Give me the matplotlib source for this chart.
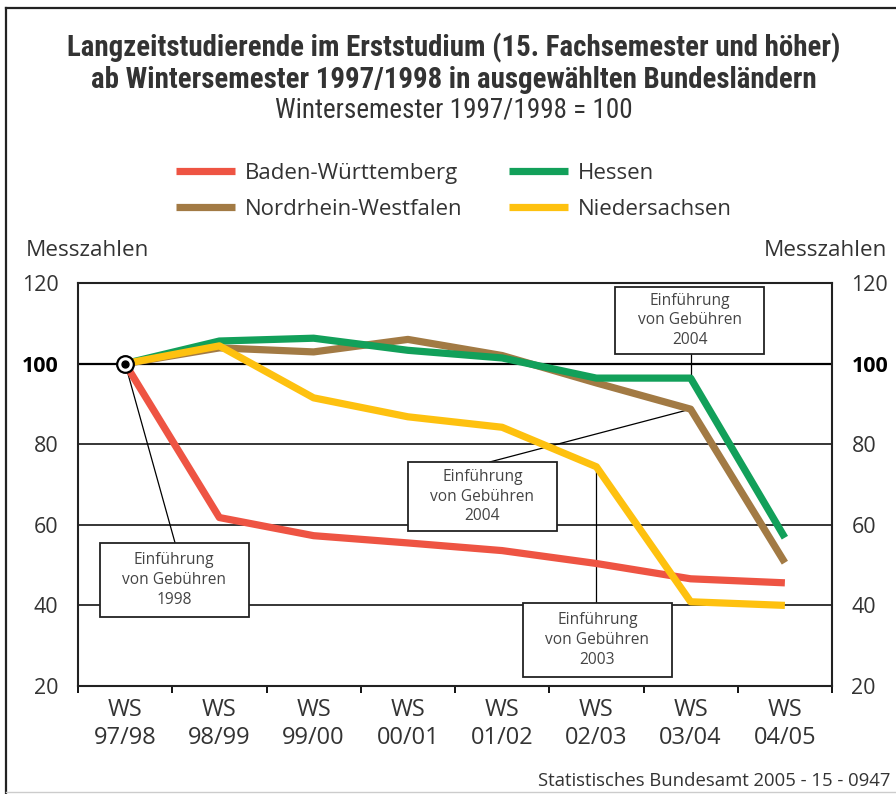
import matplotlib
matplotlib.use("Agg")
import matplotlib.pyplot as plt
from matplotlib import font_manager
from matplotlib.lines import Line2D
from matplotlib.patches import Rectangle

# ── Data (Messzahlen, WS 1997/1998 = 100) ───────────────────────────────────
semesters = ["WS\n97/98", "WS\n98/99", "WS\n99/00", "WS\n00/01",
             "WS\n01/02", "WS\n02/03", "WS\n03/04", "WS\n04/05"]
baden_wuerttemberg = [100, 61.8, 57.3, 55.5, 53.6, 50.4, 46.6, 45.6]
hessen = [100, 105.6, 106.3, 103.3, 101.4, 96.4, 96.4, 56.8]
nordrhein_westfalen = [100, 103.9, 102.9, 106.0, 102.0, 95.2, 88.7, 50.6]
niedersachsen = [100, 104.4, 91.5, 86.8, 84.2, 74.4, 40.9, 40.0]
y_ticks = [20, 40, 60, 80, 100, 120]

# ── Style ────────────────────────────────────────────────────────────────────
RED = "#ee5443"
GREEN = "#12a05a"
BROWN = "#a27a44"
YELLOW = "#fec10f"
TEXT = "#333333"
FONT = "Open Sans"

installed = {f.name for f in font_manager.fontManager.ttflist}
narrow = [n for n in ("Roboto Condensed", "Liberation Sans Narrow", "Open Sans Condensed")
          if n in installed]
TITLE_FONT = narrow[0] if narrow else "Roboto"

plt.rcParams["font.family"] = [FONT, "DejaVu Sans"]

fig = plt.figure(figsize=(8.96, 7.94), dpi=100)
ax = fig.add_axes([78 / 896, 1 - 686 / 794, 754 / 896, 403 / 794])

x = list(range(len(semesters)))
lw = 5.2
l_bw, = ax.plot(x, baden_wuerttemberg, color=RED, lw=lw, zorder=5,
                solid_capstyle="butt", label="Baden-Württemberg")
l_nrw, = ax.plot(x, nordrhein_westfalen, color=BROWN, lw=lw, zorder=3,
                 solid_capstyle="butt", label="Nordrhein-Westfalen")
l_he, = ax.plot(x, hessen, color=GREEN, lw=lw, zorder=4,
                solid_capstyle="butt", label="Hessen")
l_ni, = ax.plot(x, niedersachsen, color=YELLOW, lw=lw, zorder=6,
                solid_capstyle="butt", label="Niedersachsen")

# start marker (base year)
ax.plot(x[0], 100, "o", ms=12, mfc="white", mec="black", mew=1.6, zorder=8)
ax.plot(x[0], 100, "o", ms=5, color="black", zorder=9)

# ── Axes ─────────────────────────────────────────────────────────────────────
ax.set_xlim(-0.5, len(semesters) - 0.5)
ax.set_ylim(20, 120)
ax.set_yticks(y_ticks)
for yv in y_ticks[1:-1]:
    ax.axhline(yv, color="black", lw=1.6 if yv == 100 else 1.1, zorder=1)
for s in ax.spines.values():
    s.set_linewidth(1.5)
    s.set_color("#222222")

ax.set_xticks(x)
ax.set_xticklabels(semesters, fontsize=17, color=TEXT, linespacing=1.2)
ax.set_xticks([i - 0.5 for i in range(len(semesters) + 1)], minor=True)
ax.tick_params(axis="x", which="major", length=0, pad=9)
ax.tick_params(axis="x", which="minor", length=5, width=1.3, direction="out")

ax.tick_params(axis="y", length=0, pad=14, labelsize=15.5, labelcolor=TEXT,
               left=True, right=True, labelleft=True, labelright=True)
for lab in ax.get_yticklabels():
    if lab.get_text() == "100":
        lab.set_fontweight("bold")
        lab.set_color("black")

# ── Annotation boxes ─────────────────────────────────────────────────────────
def fee_box(cx, cy, w, h, year):
    ax.add_patch(Rectangle((cx - w / 2, cy - h / 2), w, h, facecolor="white",
                           edgecolor="#222222", lw=1.3, zorder=7))
    ax.text(cx, cy, f"Einführung\nvon Gebühren\n{year}", ha="center",
            va="center", fontsize=11.2, color="#444444", linespacing=1.3,
            zorder=8)

BW = 1.58
fee_box(0.52, 46.3, BW, 18.4, "1998")
fee_box(3.79, 67.0, BW, 17.3, "2004")
fee_box(5.99, 110.7, BW, 16.6, "2004")
fee_box(5.01, 31.4, BW, 18.4, "2003")

# connectors
ax.plot([x[0], 0.53], [baden_wuerttemberg[0], 55.5], color="black", lw=0.9, zorder=2)
ax.plot([x[6], 3.87], [nordrhein_westfalen[6], 75.6], color="black", lw=0.9, zorder=2)
ax.plot([x[6], x[6]], [hessen[6], 102.4], color="black", lw=0.9, zorder=2)
ax.plot([x[5], x[5]], [niedersachsen[5], 40.6], color="black", lw=0.9, zorder=2)

# ── Titles & labels ──────────────────────────────────────────────────────────
fig.text(454 / 896, 1 - 48 / 794, "Langzeitstudierende im Erststudium (15. Fachsemester und höher)",
         ha="center", va="center", fontsize=20.8, fontweight="bold",
         family=[TITLE_FONT, "DejaVu Sans"], color=TEXT)
fig.text(454 / 896, 1 - 80 / 794, "ab Wintersemester 1997/1998 in ausgewählten Bundesländern",
         ha="center", va="center", fontsize=20.8, fontweight="bold",
         family=[TITLE_FONT, "DejaVu Sans"], color=TEXT)
fig.text(454 / 896, 1 - 110 / 794, "Wintersemester 1997/1998 = 100",
         ha="center", va="center", fontsize=19.5, family=[TITLE_FONT, "DejaVu Sans"],
         color=TEXT)

fig.text(26 / 896, 1 - 251 / 794, "Messzahlen", ha="left", va="center",
         fontsize=16.2, color=TEXT)
fig.text(887 / 896, 1 - 251 / 794, "Messzahlen", ha="right", va="center",
         fontsize=16.2, color=TEXT)

fig.legend(handles=[l_bw, l_nrw, l_he, l_ni], ncol=2, frameon=False,
           loc="upper left", bbox_to_anchor=(156 / 896, 1 - 143 / 794),
           fontsize=16, handlelength=2.65, handletextpad=0.45,
           columnspacing=2.1, labelspacing=0.66, labelcolor=TEXT)

fig.text(890 / 896, 1 - 781 / 794, "Statistisches Bundesamt 2005 - 15 - 0947",
         ha="right", va="center", fontsize=13.3, color=TEXT)

# outer frame (top and left edge)
fig.add_artist(Line2D([6 / 896, 1], [1 - 8 / 794, 1 - 8 / 794], color="#222222", lw=1.6))
fig.add_artist(Line2D([6 / 896, 6 / 896], [0, 1 - 8 / 794], color="#222222", lw=1.6))
fig.add_artist(Line2D([6 / 896, 1], [1 - 792 / 794, 1 - 792 / 794], color="#cccccc", lw=1.0))

fig.savefig("out.png", dpi=100, facecolor="white")
